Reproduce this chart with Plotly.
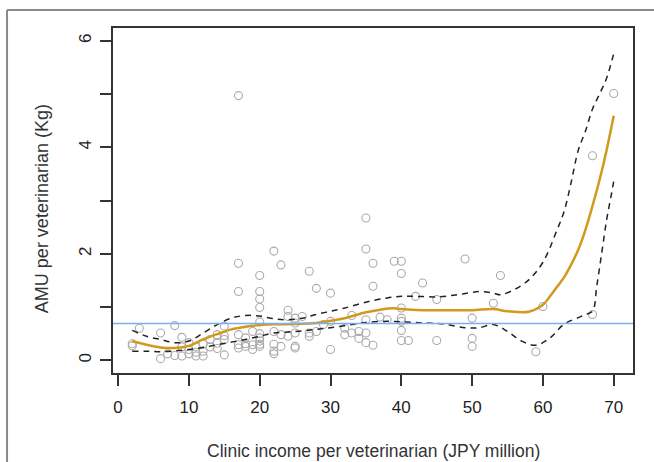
import plotly.graph_objects as go

# ---- data ----
pts_x = [2, 2, 3, 6, 6, 7, 8, 8, 9, 9, 9, 10, 10, 10, 11, 11, 11, 12, 12, 12, 13, 13,
         14, 14, 14, 15, 15, 15, 15,
         17, 17, 17, 17, 17, 17, 18, 18, 18, 19, 19, 19,
         20, 20, 20, 20, 20, 20, 20, 20, 20, 20,
         22, 22, 22, 22, 22, 23, 23, 23, 24, 24, 24, 25, 25, 25, 25, 25, 26,
         27, 27, 27, 28, 28, 29, 30, 30, 30, 32, 32, 33, 33, 34, 34,
         35, 35, 35, 35, 35, 36, 36, 36, 37, 38, 39,
         40, 40, 40, 40, 40, 40, 40, 41, 42, 43, 45, 45, 49, 50, 50, 50,
         53, 54, 59, 60, 67, 67, 70]
pts_y = [0.31, 0.27, 0.60, 0.51, 0.03, 0.12, 0.65, 0.09, 0.43, 0.08, 0.25, 0.33, 0.20, 0.12,
         0.08, 0.25, 0.15, 0.08, 0.17, 0.30, 0.39, 0.25,
         0.22, 0.48, 0.32, 0.10, 0.39, 0.46, 0.64,
         4.97, 1.82, 1.29, 0.48, 0.23, 0.29, 0.42, 0.26, 0.31, 0.54, 0.20, 0.29,
         1.59, 1.29, 1.15, 0.99, 0.72, 0.50, 0.42, 0.36, 0.30, 0.26,
         2.05, 0.54, 0.30, 0.17, 0.12, 1.79, 0.26, 0.48, 0.94, 0.82, 0.45, 0.79, 0.70, 0.51, 0.23, 0.26, 0.82,
         1.67, 0.51, 0.45, 1.35, 0.54, 0.67, 1.26, 0.20, 0.73, 0.60, 0.48, 0.84, 0.51, 0.54, 0.41,
         2.67, 2.09, 0.76, 0.51, 0.33, 1.82, 1.39, 0.28, 0.81, 0.76, 1.86,
         1.86, 1.63, 0.98, 0.79, 0.73, 0.56, 0.37, 0.37, 1.20, 1.45, 1.14, 0.37, 1.90, 0.79, 0.41, 0.26,
         1.07, 1.59, 0.16, 1.01, 3.84, 0.86, 5.01]

fit_x = [2, 4, 6, 8, 10, 12, 14, 16, 18, 20, 22, 25, 28, 30, 32, 35, 37, 39, 40, 43, 46, 50,
         53, 55, 58, 60, 61, 62, 63, 64, 65, 66, 67, 68, 69, 70]
fit_y = [0.36, 0.29, 0.24, 0.23, 0.27, 0.39, 0.49, 0.58, 0.63, 0.66, 0.675, 0.68, 0.70, 0.74,
         0.79, 0.90, 0.95, 0.975, 0.96, 0.94, 0.94, 0.94, 0.96, 0.92, 0.91, 1.04, 1.20, 1.38,
         1.56, 1.80, 2.08, 2.45, 2.90, 3.39, 3.95, 4.59]

upr_x = [2, 4, 6, 8, 10, 12, 14, 16, 18, 20, 22, 24, 26, 28, 30, 32, 35, 38, 40, 42, 45, 48,
         51, 53, 54, 56, 58, 60, 62, 63, 64, 65, 66, 67, 68, 69, 70]
upr_y = [0.56, 0.45, 0.39, 0.33, 0.36, 0.51, 0.67, 0.79, 0.84, 0.83, 0.78, 0.76, 0.79, 0.86,
         0.92, 0.98, 1.09, 1.17, 1.20, 1.20, 1.19, 1.23, 1.29, 1.26, 1.23, 1.33, 1.51, 1.84,
         2.45, 2.80, 3.35, 3.95, 4.30, 4.72, 5.00, 5.30, 5.76]

lwr_x = [2, 4, 6, 8, 10, 12, 14, 16, 18, 20, 22, 25, 28, 30, 33, 35, 38, 40, 43, 46, 49, 51,
         53, 55, 57, 59, 61, 63, 65, 66, 67, 67.6, 68.3, 69, 69.7, 70]
lwr_y = [0.17, 0.17, 0.16, 0.175, 0.20, 0.24, 0.29, 0.34, 0.39, 0.45, 0.51, 0.54, 0.58, 0.61,
         0.67, 0.71, 0.73, 0.72, 0.70, 0.68, 0.61, 0.61, 0.67, 0.54, 0.36, 0.28, 0.42, 0.68,
         0.80, 0.86, 0.92, 1.39, 2.01, 2.64, 3.14, 3.36]

ref_level = 0.69

x_ticks = [0, 10, 20, 30, 40, 50, 60, 70]
y_ticks = [0, 1, 2, 3, 4, 5, 6]
y_ticktext = ["0", "", "2", "", "4", "", "6"]

x_title = "Clinic income per veterinarian (JPY million)"
y_title = "AMU per veterinarian (Kg)"

FONT = "Liberation Sans, Arial, sans-serif"
AX = "#333333"

fig = go.Figure()
fig.add_trace(go.Scatter(x=pts_x, y=pts_y, mode="markers",
                         marker=dict(symbol="circle-open", size=8, color="#ABABAB",
                                     line=dict(width=1.1, color="#ABABAB")),
                         hoverinfo="skip", showlegend=False))
for xs, ys in ((upr_x, upr_y), (lwr_x, lwr_y)):
    fig.add_trace(go.Scatter(x=xs, y=ys, mode="lines", line_shape="spline",
                             line=dict(color="#222222", width=1.5, dash="6px,5px"),
                             hoverinfo="skip", showlegend=False))
fig.add_trace(go.Scatter(x=fit_x, y=fit_y, mode="lines", line_shape="spline",
                         line=dict(color="#D19A1C", width=2.5),
                         hoverinfo="skip", showlegend=False))

fig.add_shape(type="line", xref="paper", yref="y", x0=0, x1=1, y0=ref_level, y1=ref_level,
              line=dict(color="#7AAEF5", width=1.5))
# outer frame (left and top edges of the picture)
fig.add_shape(type="line", xref="paper", yref="paper", x0=-0.2038, x1=-0.2038, y0=-0.26, y1=1.052,
              line=dict(color="#8A8A8A", width=2))
fig.add_shape(type="line", xref="paper", yref="paper", x0=-0.2038, x1=1.05, y0=1.052, y1=1.052,
              line=dict(color="#8A8A8A", width=2))

fig.add_annotation(text=x_title, xref="paper", yref="paper", x=0.5, y=-0.227,
                   xanchor="center", yanchor="middle", showarrow=False,
                   font=dict(family=FONT, size=17.5, color="#333333"))
fig.add_annotation(text=y_title, xref="paper", yref="paper", x=-0.1365, y=0.475,
                   xanchor="center", yanchor="middle", textangle=-90, showarrow=False,
                   font=dict(family=FONT, size=18, color="#333333"))

fig.update_xaxes(range=[-0.72, 72.72], tickvals=x_ticks, ticks="outside", ticklen=11,
                 tickwidth=1.5, tickcolor=AX, showline=True, mirror=True, linecolor=AX,
                 linewidth=1.5, showgrid=False, zeroline=False, ticklabelstandoff=7,
                 tickfont=dict(family=FONT, size=17, color="#222222"))
fig.update_yaxes(range=[-0.24, 6.24], tickvals=y_ticks, ticktext=y_ticktext, ticks="outside",
                 ticklen=11, tickwidth=1.5, tickcolor=AX, showline=True, mirror=True,
                 linecolor=AX, linewidth=1.5, showgrid=False, zeroline=False, tickangle=-90,
                 ticklabelstandoff=2,
                 tickfont=dict(family=FONT, size=17, color="#222222"))

fig.update_layout(width=654, height=462, margin=dict(l=113, r=21, t=28, b=88.5),
                  paper_bgcolor="white", plot_bgcolor="white")

fig.write_html("out.html", config={"displayModeBar": False},
               post_script="document.body.style.margin='0';document.body.style.overflow='hidden';")
